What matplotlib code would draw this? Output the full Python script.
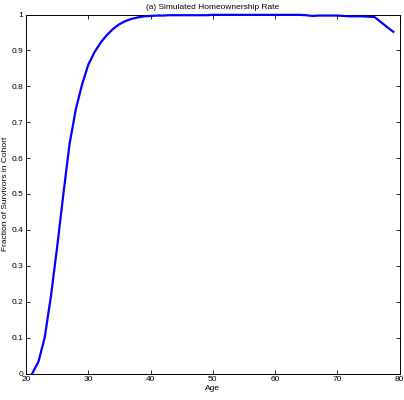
import matplotlib
matplotlib.use("Agg")
import matplotlib.pyplot as plt

# simulated homeownership rate by age
ages = list(range(21, 80))
rate = [0.000, 0.033, 0.100, 0.215, 0.352, 0.500, 0.640, 0.736, 0.805, 0.860,
        0.895, 0.922, 0.943, 0.960, 0.973, 0.982, 0.988, 0.992, 0.995, 0.996,
        0.997, 0.997, 0.998, 0.998, 0.998, 0.998, 0.998, 0.998, 0.998, 0.999,
        0.999, 0.999, 0.999, 0.999, 0.999, 0.999, 0.999, 0.999, 0.999, 0.999,
        0.999, 0.999, 0.999, 0.999, 0.998, 0.996, 0.997, 0.997, 0.997, 0.997,
        0.996, 0.995, 0.995, 0.995, 0.994, 0.993, 0.979, 0.965, 0.952]

xticks = [20, 30, 40, 50, 60, 70, 80]
yticks = [0, 0.1, 0.2, 0.3, 0.4, 0.5, 0.6, 0.7, 0.8, 0.9, 1]
ytick_labels = ["0", "0.1", "0.2", "0.3", "0.4", "0.5", "0.6", "0.7", "0.8", "0.9", "1"]

plt.rcParams['font.family'] = ['Liberation Sans', 'DejaVu Sans']
plt.rcParams['font.size'] = 6

fig = plt.figure(figsize=(4.04, 4.00), dpi=100)
ax = fig.add_axes([0.0644, 0.06625, 0.9245, 0.8975])

# drawn above the spines, like the MATLAB original
ax.plot(ages, rate, color=(0, 0, 1), linewidth=1.6, zorder=3, clip_on=False)

ax.set_xlim(20, 80)
ax.set_ylim(0, 1)
ax.set_xticks(xticks)
ax.set_yticks(yticks)
ax.set_yticklabels(ytick_labels)
ax.tick_params(direction='in', length=3, width=0.6, top=True, right=True, pad=2)
for s in ax.spines.values():
    s.set_linewidth(0.7)
    s.set_zorder(2)

ax.set_title("(a) Simulated Homeownership Rate", fontsize=6, pad=4)
ax.set_xlabel("Age", labelpad=1)
ax.set_ylabel("Fraction of Survivors in Cohort", labelpad=2)

fig.savefig("out.png", dpi=100)
